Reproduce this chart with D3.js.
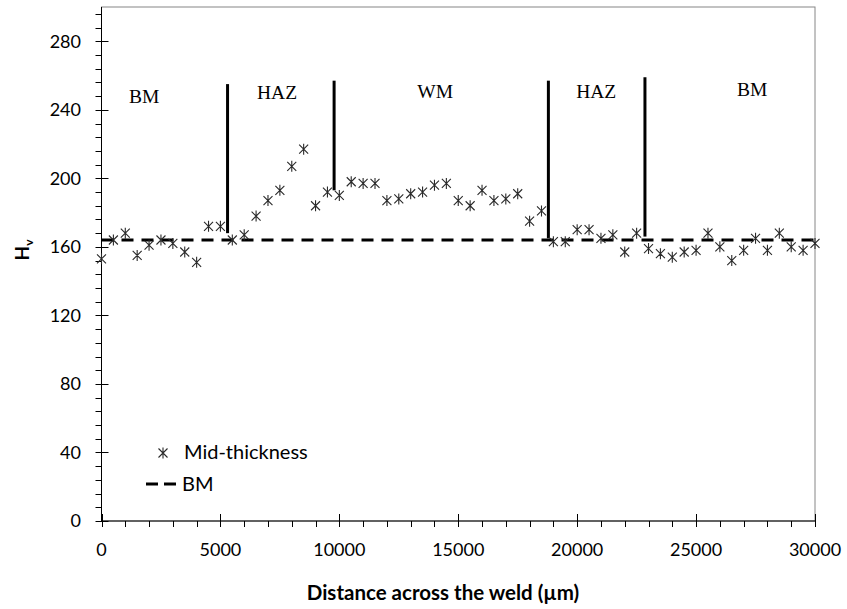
<!DOCTYPE html>
<html>
<head>
<meta charset="utf-8">
<script src="https://cdn.jsdelivr.net/npm/d3@7"></script>
<style>
  html, body { margin: 0; padding: 0; background: #fff; }
  svg { display: block; }
</style>
</head>
<body>
<svg id="chart" width="847" height="609"></svg>
<script>
// ---- data ----
const distance = [0, 500, 1000, 1500, 2000, 2500, 3000, 3500, 4000, 4500, 5000, 5500,
  6000, 6500, 7000, 7500, 8000, 8500, 9000, 9500, 10000, 10500, 11000, 11500,
  12000, 12500, 13000, 13500, 14000, 14500, 15000, 15500, 16000, 16500, 17000, 17500,
  18000, 18500, 19000, 19500, 20000, 20500, 21000, 21500, 22000, 22500, 23000, 23500,
  24000, 24500, 25000, 25500, 26000, 26500, 27000, 27500, 28000, 28500, 29000, 29500, 30000];
const hardness = [153, 164, 168, 155, 161, 164, 162, 157, 151, 172, 172, 164,
  167, 178, 187, 193, 207, 217, 184, 192, 190, 198, 197, 197,
  187, 188, 191, 192, 196, 197, 187, 184, 193, 187, 188, 191,
  175, 181, 163, 163, 170, 170, 165, 167, 157, 168, 159, 156,
  154, 157, 158, 168, 160, 152, 158, 165, 158, 168, 160, 158, 162];
const bmHardness = 164;
const boundaryX = [5300, 9780, 18790, 22850];
const boundaryTop = [255, 257, 257, 259];
const boundaryBottom = [168, 193, 165, 166];
const zoneNames = ["BM", "HAZ", "WM", "HAZ", "BM"];
const zoneX = [1790, 7380, 14030, 20800, 27360];
const zoneY = [248, 250, 250.8, 250.8, 252];
const yTicks = [0, 40, 80, 120, 160, 200, 240, 280];
const xTicks = [0, 5000, 10000, 15000, 20000, 25000, 30000];
const seriesNames = ["Mid-thickness", "BM"];

// ---- layout ----
const svg = d3.select("#chart");
const L = 101.5, R = 815, T = 7, B = 521;
const x = d3.scaleLinear().domain([0, 30000]).range([L, R]);
const y = d3.scaleLinear().domain([0, 300]).range([B, T]);
const tickFont = "Lato, 'Open Sans', sans-serif";

// frame
svg.append("rect").attr("x", L).attr("y", T).attr("width", R - L).attr("height", B - T)
  .attr("fill", "none").attr("stroke", "#868686").attr("stroke-width", 1);

// y axis
const yMinor = d3.range(0, 300, 8).filter(v => v % 40 !== 0);
const gy = svg.append("g");
gy.selectAll("line.minor").data(yMinor).join("line")
  .attr("x1", L - 6).attr("x2", L).attr("y1", d => Math.round(y(d)) + 0.5).attr("y2", d => Math.round(y(d)) + 0.5)
  .attr("stroke", "#000").attr("stroke-width", 1);
gy.selectAll("line.major").data(yTicks).join("line")
  .attr("x1", L - 6).attr("x2", L + 7).attr("y1", d => Math.round(y(d)) + 0.5).attr("y2", d => Math.round(y(d)) + 0.5)
  .attr("stroke", "#000").attr("stroke-width", 1);
gy.append("line").attr("x1", L).attr("x2", L).attr("y1", T).attr("y2", B)
  .attr("stroke", "#000").attr("stroke-width", 1);
gy.selectAll("text").data(yTicks).join("text")
  .attr("x", 81).attr("y", d => y(d)).attr("dy", "0.35em")
  .attr("text-anchor", "end").attr("font-family", tickFont).attr("font-size", 18)
  .attr("fill", "#000").text(d => d);

// x axis
const xMinor = d3.range(0, 30001, 1000).filter(v => v % 5000 !== 0);
const gx = svg.append("g");
gx.selectAll("line.minor").data(xMinor).join("line")
  .attr("x1", d => Math.round(x(d)) + 0.5).attr("x2", d => Math.round(x(d)) + 0.5)
  .attr("y1", B).attr("y2", B + 6).attr("stroke", "#000").attr("stroke-width", 1);
gx.selectAll("line.major").data(xTicks).join("line")
  .attr("x1", d => Math.round(x(d)) + 0.5).attr("x2", d => Math.round(x(d)) + 0.5)
  .attr("y1", B - 7).attr("y2", B + 6).attr("stroke", "#000").attr("stroke-width", 1);
gx.append("line").attr("x1", L).attr("x2", R).attr("y1", B).attr("y2", B)
  .attr("stroke", "#000").attr("stroke-width", 1);
gx.selectAll("text").data(xTicks).join("text")
  .attr("x", d => x(d)).attr("y", 550).attr("dy", "0.35em")
  .attr("text-anchor", "middle").attr("font-family", tickFont).attr("font-size", 18)
  .attr("fill", "#000").text(d => d);

// axis titles
svg.append("text").attr("x", 443).attr("y", 600)
  .attr("text-anchor", "middle").attr("font-family", tickFont).attr("font-size", 20.5)
  .attr("font-weight", "bold").attr("fill", "#000").text("Distance across the weld (µm)");
const yt = svg.append("text").attr("transform", "translate(29,250) rotate(-90)")
  .attr("text-anchor", "middle").attr("font-family", tickFont).attr("font-size", 19)
  .attr("font-weight", "bold").attr("fill", "#000");
yt.append("tspan").text("H");
yt.append("tspan").attr("font-size", 12).attr("dy", 4).text("v");

// BM dashed reference line
svg.append("line").attr("x1", x(0)).attr("x2", x(30000))
  .attr("y1", y(bmHardness)).attr("y2", y(bmHardness))
  .attr("stroke", "#000").attr("stroke-width", 3).attr("stroke-dasharray", "12,8");

// zone boundaries
svg.selectAll("line.bound").data(boundaryX).join("line")
  .attr("x1", d => x(d)).attr("x2", d => x(d))
  .attr("y1", (d, i) => y(boundaryTop[i])).attr("y2", (d, i) => y(boundaryBottom[i]))
  .attr("stroke", "#000").attr("stroke-width", 3);

// zone labels
svg.selectAll("text.zone").data(zoneNames).join("text")
  .attr("x", (d, i) => x(zoneX[i])).attr("y", (d, i) => y(zoneY[i])).attr("dy", "0.35em")
  .attr("text-anchor", "middle").attr("font-family", "'Liberation Serif', 'Times New Roman', serif")
  .attr("font-size", 19.5).attr("fill", "#000").text(d => d);

// star markers
const star = "M-4.5,-4.5L4.5,4.5M-4.5,4.5L4.5,-4.5M0,-5.5L0,5.5";
svg.selectAll("path.pt").data(distance).join("path")
  .attr("transform", (d, i) => `translate(${x(d)},${y(hardness[i])})`)
  .attr("d", star).attr("fill", "none").attr("stroke", "#2a2a2a").attr("stroke-width", 1.1);

// legend
svg.append("path").attr("transform", "translate(163,453)").attr("d", star)
  .attr("fill", "none").attr("stroke", "#2a2a2a").attr("stroke-width", 1.1);
svg.append("line").attr("x1", 146).attr("x2", 176).attr("y1", 484).attr("y2", 484)
  .attr("stroke", "#000").attr("stroke-width", 3).attr("stroke-dasharray", "12,6");
svg.append("text").attr("x", 184).attr("y", 452).attr("dy", "0.35em")
  .attr("font-family", tickFont).attr("font-size", 20).attr("fill", "#000").text(seriesNames[0]);
svg.append("text").attr("x", 182).attr("y", 484).attr("dy", "0.35em")
  .attr("font-family", tickFont).attr("font-size", 20).attr("fill", "#000").text(seriesNames[1]);
</script>
</body>
</html>
